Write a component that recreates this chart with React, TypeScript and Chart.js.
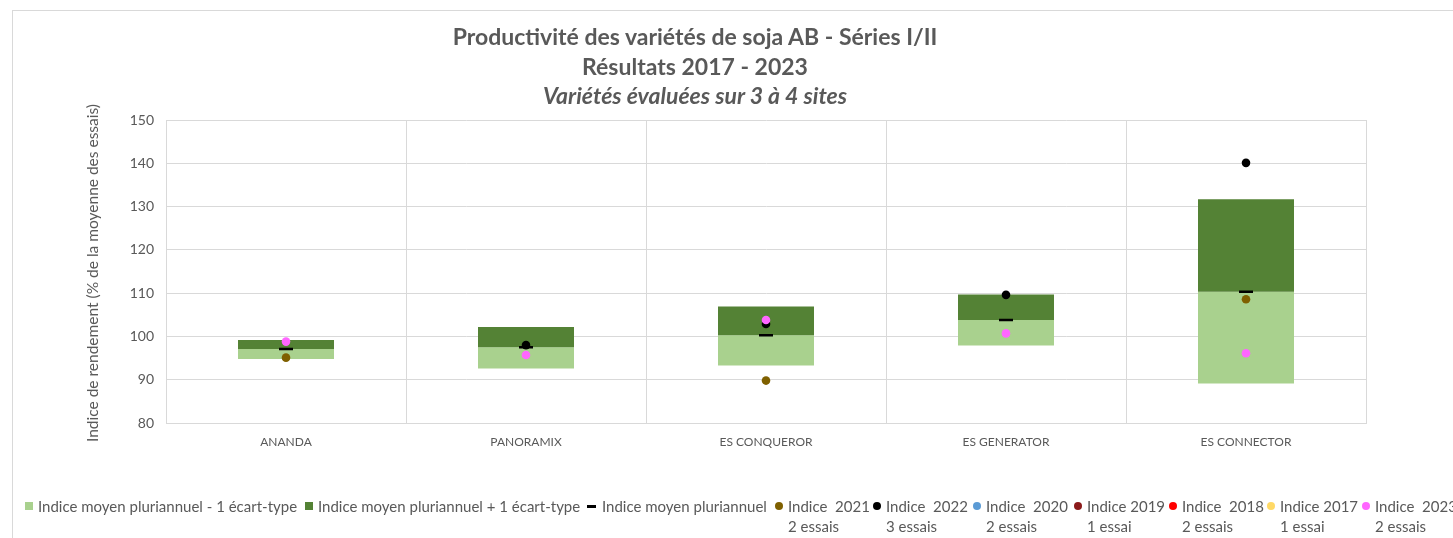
import React, { useEffect, useRef } from "react";
import { Chart, registerables } from "chart.js";

Chart.register(...registerables);

const categories = ["ANANDA", "PANORAMIX", "ES CONQUEROR", "ES GENERATOR", "ES CONNECTOR"];
const meanMinusSd = [94.8, 92.6, 93.3, 97.9, 89.1];
const meanValues = [97.1, 97.5, 100.3, 103.8, 110.3];
const meanPlusSd = [99.2, 102.2, 106.9, 109.7, 131.7];
const idx2021: (number | null)[] = [95.1, null, 89.8, null, 108.6];
const idx2022: (number | null)[] = [null, 98.0, 102.9, 109.6, 140.1];
const idx2020: (number | null)[] = [null, null, null, null, null];
const idx2019: (number | null)[] = [null, null, null, null, null];
const idx2018: (number | null)[] = [null, null, null, null, null];
const idx2017: (number | null)[] = [null, null, null, null, null];
const idx2023: (number | null)[] = [98.8, 95.7, 103.8, 100.7, 96.1];
const yTicks = [80, 90, 100, 110, 120, 130, 140, 150];

const LIGHT = "#A9D18E";
const DARK = "#548235";
const GRID = "#D9D9D9";
const TEXT = "#595959";
const FONT = "Lato, 'Liberation Sans', sans-serif";

const pointSeries = [
  { label: ["Indice  2021", "2 essais"], data: idx2021, color: "#7F6000" },
  { label: ["Indice  2022", "3 essais"], data: idx2022, color: "#000000" },
  { label: ["Indice  2020", "2 essais"], data: idx2020, color: "#5B9BD5" },
  { label: ["Indice 2019", "1 essai"], data: idx2019, color: "#8B1A1A" },
  { label: ["Indice  2018", "2 essais"], data: idx2018, color: "#FF0000" },
  { label: ["Indice 2017", "1 essai"], data: idx2017, color: "#FFD966" },
  { label: ["Indice  2023", "2 essais"], data: idx2023, color: "#FF66FF" },
];

type LegendItem = { lines: string[]; color: string; kind: "square" | "dash" | "dot"; left: number };
const legendItems: LegendItem[] = [
  { lines: ["Indice moyen pluriannuel - 1 écart-type"], color: LIGHT, kind: "square", left: 25 },
  { lines: ["Indice moyen pluriannuel + 1 écart-type"], color: DARK, kind: "square", left: 305 },
  { lines: ["Indice moyen pluriannuel"], color: "#000", kind: "dash", left: 587 },
  ...pointSeries.map((s, i) => ({
    lines: s.label,
    color: s.color,
    kind: "dot" as const,
    left: [775, 873, 973, 1074, 1169, 1267, 1362][i],
  })),
];

export default function App() {
  const canvasRef = useRef<HTMLCanvasElement | null>(null);

  useEffect(() => {
    if (!canvasRef.current) return;
    const datasets: any[] = [
      {
        type: "bar",
        label: "Indice moyen pluriannuel - 1 écart-type",
        data: categories.map((_, i) => [meanMinusSd[i], meanValues[i]]),
        backgroundColor: LIGHT,
        grouped: false,
        barPercentage: 0.4,
        categoryPercentage: 1,
        order: 100,
      },
      {
        type: "bar",
        label: "Indice moyen pluriannuel + 1 écart-type",
        data: categories.map((_, i) => [meanValues[i], meanPlusSd[i]]),
        backgroundColor: DARK,
        grouped: false,
        barPercentage: 0.4,
        categoryPercentage: 1,
        order: 99,
      },
      {
        type: "line",
        label: "Indice moyen pluriannuel",
        data: meanValues,
        showLine: false,
        pointStyle: "line",
        pointRadius: 7,
        pointBorderWidth: 2.5,
        pointBorderColor: "#000",
        borderColor: "#000",
        order: 50,
      },
      ...pointSeries.map((s, i) => ({
        type: "line",
        label: s.label.join(" "),
        data: s.data,
        showLine: false,
        pointStyle: "circle",
        pointRadius: 4.3,
        pointBorderWidth: 0,
        pointBackgroundColor: s.color,
        borderColor: s.color,
        backgroundColor: s.color,
        order: 20 - i,
      })),
    ];

    const chart = new Chart(canvasRef.current, {
      type: "bar",
      data: { labels: categories, datasets },
      options: {
        animation: false,
        responsive: false,
        devicePixelRatio: 1,
        layout: { padding: { top: 120, right: 87, bottom: 85, left: 0 } },
        plugins: { legend: { display: false }, tooltip: { enabled: false }, title: { display: false } },
        scales: {
          x: {
            grid: { color: GRID, offset: true, drawTicks: false, lineWidth: 1 },
            border: { color: GRID },
            ticks: { color: TEXT, font: { family: FONT, size: 12 }, padding: 12 },
            afterFit: (s: any) => {
              s.height = 30;
            },
          },
          y: {
            min: 80,
            max: 150,
            afterBuildTicks: (s: any) => {
              s.ticks = yTicks.map((v) => ({ value: v }));
            },
            grid: { color: GRID, drawTicks: false },
            border: { color: GRID },
            ticks: { color: TEXT, font: { family: FONT, size: 14 }, padding: 12 },
            afterFit: (s: any) => {
              s.width = 166;
            },
          },
        },
      },
    });
    return () => chart.destroy();
  }, []);

  return (
    <div
      style={{
        position: "absolute",
        left: 0,
        top: 0,
        width: 1453,
        height: 538,
        overflow: "hidden",
        background: "#fff",
        fontFamily: FONT,
      }}
    >
      <div
        style={{
          position: "absolute",
          left: 12,
          top: 10,
          width: 1500,
          height: 600,
          border: `1px solid ${GRID}`,
        }}
      />
      <canvas ref={canvasRef} width={1453} height={538} style={{ position: "absolute", left: 0, top: 0 }} />
      <div
        style={{
          position: "absolute",
          left: 0,
          top: 22,
          width: 1390,
          textAlign: "center",
          color: TEXT,
          fontWeight: 700,
          fontSize: 23,
          lineHeight: "29.5px",
        }}
      >
        <div>Productivité des variétés de soja AB - Séries I/II</div>
        <div>Résultats 2017 - 2023</div>
        <div style={{ fontStyle: "italic" }}>Variétés évaluées sur 3 à 4 sites</div>
      </div>
      <div
        style={{
          position: "absolute",
          left: 92,
          top: 273,
          transform: "translate(-50%, -50%) rotate(-90deg)",
          whiteSpace: "nowrap",
          color: TEXT,
          fontSize: 15.5,
          fontWeight: 400,
        }}
      >
        Indice de rendement (% de la moyenne des essais)
      </div>
      {legendItems.map((it, i) => (
        <div
          key={i}
          style={{
            position: "absolute",
            left: it.left,
            top: 496,
            display: "flex",
            alignItems: "flex-start",
            color: TEXT,
            fontSize: 15,
            lineHeight: "20px",
            whiteSpace: "nowrap",
          }}
        >
          <div
            style={{
              width: it.kind === "dash" ? 15 : 13,
              height: 20,
              position: "relative",
              flex: "none",
            }}
          >
            {it.kind === "square" && (
              <div style={{ position: "absolute", left: 0, top: 6, width: 8, height: 8, background: it.color }} />
            )}
            {it.kind === "dash" && (
              <div style={{ position: "absolute", left: 0, top: 9, width: 9, height: 3, background: it.color }} />
            )}
            {it.kind === "dot" && (
              <div
                style={{
                  position: "absolute",
                  left: 0,
                  top: 6,
                  width: 8,
                  height: 8,
                  borderRadius: "50%",
                  background: it.color,
                }}
              />
            )}
          </div>
          <div>
            {it.lines.map((l, j) => (
              <div key={j} style={{ whiteSpace: "pre" }}>
                {l}
              </div>
            ))}
          </div>
        </div>
      ))}
    </div>
  );
}
